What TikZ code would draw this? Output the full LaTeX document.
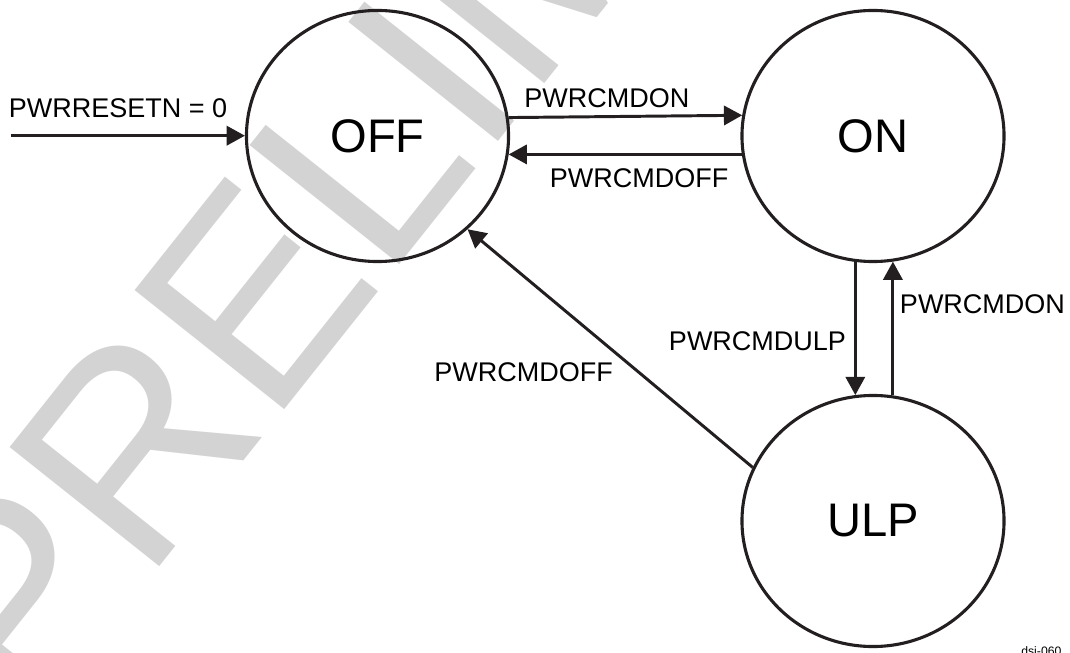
\documentclass[tikz,border=0pt]{standalone}
\usepackage{fontspec}
\setmainfont{Liberation Sans}
\usepackage{tikz}
\usepackage{xcolor}
\usetikzlibrary{arrows.meta, shapes.geometric}

\definecolor{linecol}{RGB}{35,31,32}
\definecolor{wmgray}{RGB}{211,211,211}

\tikzset{
  state/.style={draw=linecol, line width=2.2pt, ellipse, inner sep=0pt,
    minimum width=6.55cm, minimum height=6.275cm,
    font=\fontsize{33.5}{36}\selectfont},
  lbl/.style={inner sep=0pt, anchor=base west, font=\fontsize{19.2}{22}\selectfont},
  trans/.style={draw=linecol, line width=2.1pt,
    -{Triangle[length=13pt, width=13.7pt]}},
  wm/.style={inner sep=0pt, anchor=base west, rotate=51.5, text=wmgray,
    font=\fontsize{197.7}{200}\selectfont}
}

\begin{document}
\begin{tikzpicture}[x=0.025cm, y=0.025cm]
  \useasboundingbox (0,0) rectangle (1070,652);
  % watermark behind everything
  \node[wm] (wmark) at (30,-78) {PRELIMINARY};
  % states
  \node[state] (OFF) at (377.5,516) {OFF};
  \node[state] (ON)  at (873,516)   {ON};
  \node[state] (ULP) at (873,131)   {ULP};
  % reset entry
  \coordinate (rstin) at (10.7,516.3);
  \draw[trans] (rstin) -- (OFF.west |- rstin);
  \node[lbl] (lrst) at (8.7,534.3) {PWRRESETN = 0};
  % OFF <-> ON
  \draw[trans] (OFF.8.5) -- (ON.171.5);
  \node[lbl] (loffon) at (524,544.3) {PWRCMDON};
  \draw[trans] (ON.-172) -- (OFF.-8);
  \node[lbl] (lonoff) at (549.7,464.3) {PWRCMDOFF};
  % ON <-> ULP
  \draw[trans] (ON.-98.9) -- (ULP.98.9);
  \node[lbl] (lonulp) at (668.7,302) {PWRCMDULP};
  \draw[trans] (ULP.81.8) -- (ON.-81.8);
  \node[lbl] (lulpon) at (899.7,338) {PWRCMDON};
  % ULP -> OFF
  \draw[trans] (ULP.156) -- (OFF.-46);
  \node[lbl] (lulpoff) at (434,270.3) {PWRCMDOFF};
  % figure tag
  \node[inner sep=0pt, anchor=base west, font=\fontsize{8.7}{10}\selectfont] (tag) at (1021,-3.5) {dsi-060};
\end{tikzpicture}
\end{document}
